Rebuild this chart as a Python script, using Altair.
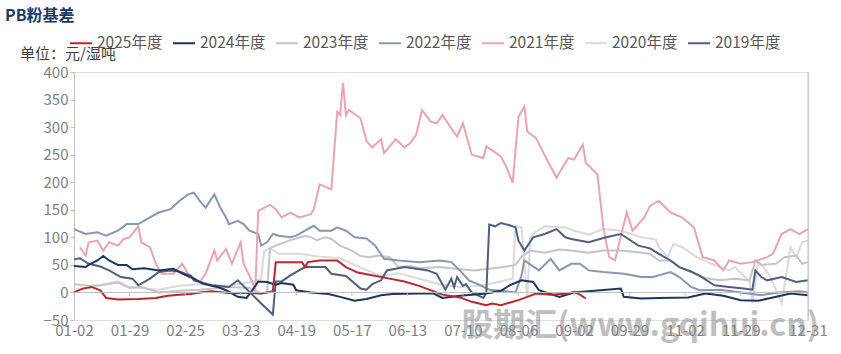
import altair as alt
import pandas as pd

FONT = "Noto Sans CJK SC"

TICK_IDX = [0, 19, 38, 57, 76, 95, 114, 133, 152, 171, 190, 209, 228, 251]
TICK_LBL = ["01-02", "01-29", "02-25", "03-23", "04-19", "05-17", "06-13",
            "07-10", "08-06", "09-02", "09-29", "11-02", "11-29", "12-31"]
Y_TICKS = [-50, 0, 50, 100, 150, 200, 250, 300, 350, 400]

SERIES = ["2025年度", "2024年度", "2023年度", "2022年度", "2021年度", "2020年度", "2019年度"]
COLORS = ["#b8282e", "#1f3560", "#c4c4c4", "#8797b2", "#eba3b2", "#dadada", "#4f5f80"]
WIDTHS = [2.0, 2.0, 1.6, 1.6, 1.6, 1.6, 1.6]

x2025 = [0,3,6,9,11,15,22,28,32,36,40,43,47,53,60,64,67,68,69,78,79,80,84,90,93,97,101,107,113,118,123,126,132,136,141,143,146,152,155,158,163,169,171,173,175]
v2025 = [0,7,10,4,-10,-13,-12,-10,-6,-4,-3,0,2,-1,-1,-2,1,2,55,55,46,55,58,58,46,36,32,26,20,12,2,-4,-9,-17,-23,-20,-23,-14,-8,-2,-4,-2,1,-4,-11]

x2024 = [0,4,5,8,10,12,15,18,20,24,29,34,37,41,44,49,52,56,59,61,63,66,69,71,75,76,81,87,91,96,100,105,109,118,123,126,132,141,146,149,153,157,159,166,171,180,187,188,194,200,210,216,222,228,234,239,245,251]
v2024 = [48,46,50,58,66,58,50,50,42,44,40,43,34,25,16,10,4,-8,-10,4,20,19,14,17,14,4,0,-3,-8,-15,-12,-5,-3,-2,-2,-10,-6,-2,3,13,22,19,4,-8,0,4,7,-8,-11,-10,-9,-2,-6,-14,-15,-9,-2,-5]

x2023 = [0,5,9,15,19,23,29,36,43,53,60,64,66,67,69,74,79,81,83,86,88,91,95,98,101,104,108,111,115,118,125,132,137,142,147,151,153,156,161,166,170,176,181,187,193,197,200,204,207,211,214,217,221,226,231,233,235,240,243,247,249,251]
v2023 = [15,12,13,18,8,10,0,3,5,10,8,-2,0,80,85,95,103,100,95,100,97,85,76,66,64,67,64,46,48,44,46,42,40,43,46,50,65,76,72,78,76,72,76,76,73,70,58,58,46,37,30,25,22,25,22,58,50,52,64,67,52,55]

x2022 = [0,4,8,11,15,18,22,26,29,33,36,39,41,43,45,48,50,52,53,56,58,60,63,64,66,68,70,74,76,79,82,84,88,90,93,96,100,103,106,111,118,125,129,132,135,139,142,146,151,153,154,159,163,166,170,173,176,181,188,194,198,204,207,211,214,221,228,235,241,248,251]
v2022 = [115,106,109,103,112,124,124,136,145,151,166,178,181,166,154,178,154,136,124,130,124,112,106,85,91,106,103,100,103,112,121,112,112,118,112,100,98,85,61,58,55,58,55,40,22,13,5,3,0,30,58,40,61,40,52,52,40,37,34,28,28,37,28,10,4,5,0,-5,0,2,0]

x2021 = [2,4,5,8,10,12,15,17,19,22,23,26,28,30,34,37,39,43,45,48,49,52,54,57,58,61,62,63,67,69,71,74,77,81,82,84,88,90,91,92,93,94,98,100,102,105,106,108,110,113,115,117,119,122,124,126,129,131,133,136,140,141,146,148,150,152,154,155,158,162,165,169,171,174,175,179,181,183,185,189,191,195,197,200,204,208,212,215,219,222,224,228,232,237,239,242,245,248,251]
v2021 = [82,67,91,94,76,91,85,97,100,120,91,82,52,34,34,52,34,19,34,76,58,79,52,91,52,19,4,148,159,151,136,145,136,142,151,196,187,328,322,380,322,331,316,275,263,278,253,265,278,263,271,286,331,310,307,322,298,283,307,250,244,265,247,226,199,319,337,292,280,238,208,244,241,268,235,214,118,64,58,145,112,136,157,166,145,136,118,64,58,40,58,52,55,64,70,106,115,106,115]

x2020 = [0,5,9,15,19,23,29,36,43,53,60,64,65,67,70,77,84,91,98,105,111,118,125,132,139,146,150,151,153,155,156,158,161,168,171,176,181,187,194,199,200,203,205,208,213,218,224,226,231,232,234,238,242,245,247,249,251]
v2020 = [5,8,13,20,10,8,5,12,15,12,18,25,75,80,70,70,65,62,45,30,35,25,15,10,12,20,25,121,118,-10,100,110,120,118,112,105,115,112,100,96,82,64,88,82,64,52,40,46,20,-20,58,30,-20,82,64,91,94]

x2019 = [0,2,5,9,12,16,20,22,26,29,33,36,40,41,47,53,56,64,68,69,71,74,77,79,86,88,93,98,100,102,105,107,113,117,121,124,127,129,130,131,133,134,136,138,140,141,142,144,146,149,151,152,154,157,161,165,168,170,176,182,187,193,197,200,204,207,211,214,219,224,229,232,233,235,237,242,247,251]
v2019 = [60,62,52,47,40,28,25,13,25,37,40,38,30,22,13,10,22,-20,-40,20,20,31,40,46,46,34,30,7,5,15,22,40,46,43,40,34,5,25,10,28,12,15,0,-5,-10,0,123,120,126,122,118,94,76,100,106,115,100,97,91,100,106,85,80,70,58,46,38,30,13,10,7,5,40,28,22,28,19,22]

# drawing order: bottom first
draw = [("2020年度", x2020, v2020), ("2023年度", x2023, v2023), ("2022年度", x2022, v2022),
        ("2021年度", x2021, v2021), ("2019年度", x2019, v2019), ("2024年度", x2024, v2024),
        ("2025年度", x2025, v2025)]

rows = []
for k, (name, xs, vs) in enumerate(draw):
    for x, v in zip(xs, vs):
        rows.append({"idx": x, "value": v, "series": name, "ord": k})
df = pd.DataFrame(rows)

W, H = 734, 248
x_scale = alt.Scale(domain=[0, 251], nice=False, zero=False)
y_scale = alt.Scale(domain=[-50, 400], nice=False)

label_expr = "[" + ",".join("'%s'" % s for s in TICK_LBL) + "][indexof([" + \
    ",".join(str(i) for i in TICK_IDX) + "], datum.value)]"

X_AXIS = alt.Axis(values=TICK_IDX, labelExpr=label_expr, title=None, domain=False,
                  ticks=False, grid=False, labelFlush=False, labelOverlap=False,
                  labelFontSize=15, labelColor="#7f7f7f", labelFont=FONT, labelPadding=3)
Y_AXIS = alt.Axis(values=Y_TICKS, title=None, grid=False,
                  domainColor="#bfbfbf", tickColor="#bfbfbf", tickSize=4,
                  labelOverlap=False, labelFlush=False, labelBound=False,
                  labelFontSize=15, labelColor="#7f7f7f", labelFont=FONT, labelPadding=2)

lines = alt.Chart(df).mark_line(interpolate="linear").encode(
    x=alt.X("idx:Q", scale=x_scale, axis=X_AXIS),
    y=alt.Y("value:Q", scale=y_scale, axis=Y_AXIS),
    color=alt.Color("series:N", scale=alt.Scale(domain=SERIES, range=COLORS),
                    legend=alt.Legend(title=None, orient="none", legendX=-5, legendY=-41,
                                      direction="horizontal", columns=7, symbolType="stroke",
                                      symbolSize=484, symbolStrokeWidth=2.5,
                                      labelFontSize=15.5, labelColor="#595959", labelFont=FONT,
                                      labelOffset=4, columnPadding=6)),
    strokeWidth=alt.StrokeWidth("series:N", scale=alt.Scale(domain=SERIES, range=WIDTHS), legend=None),
    detail="series:N",
    order="idx:Q",
)

zero = alt.Chart(pd.DataFrame({"y": [0]})).mark_rule(color="#bfbfbf", strokeWidth=1).encode(
    y=alt.Y("y:Q", scale=y_scale, axis=Y_AXIS))

ticks_df = pd.DataFrame({"idx": TICK_IDX, "y0": [0] * len(TICK_IDX), "y1": [-6] * len(TICK_IDX)})
zticks = alt.Chart(ticks_df).mark_rule(color="#bfbfbf").encode(
    x=alt.X("idx:Q", scale=x_scale, axis=X_AXIS), y=alt.Y("y0:Q", scale=y_scale, axis=Y_AXIS), y2="y1:Q")

right = alt.Chart(pd.DataFrame({"idx": [251]})).mark_rule(color="#bfbfbf").encode(
    x=alt.X("idx:Q", scale=x_scale, axis=X_AXIS), y=alt.value(0), y2=alt.value(H))

texts = pd.DataFrame({"t": ["x"]})
title = alt.Chart(texts).mark_text(text="PB粉基差", align="left", baseline="middle", font=FONT,
                                   fontSize=16, fontWeight="bold", color="#1f3864").encode(
    x=alt.value(-69), y=alt.value(-56))
unit = alt.Chart(texts).mark_text(text="单位：元/湿吨", align="left", baseline="middle", font=FONT,
                                  fontSize=15, color="#404040").encode(
    x=alt.value(-54), y=alt.value(-18))
wm = alt.Chart(texts).mark_text(text="股期汇(www.gqihui.cn)", align="center", baseline="middle",
                                font=FONT, fontSize=32, fontWeight="bold", color="#8c8c8c",
                                opacity=0.55).encode(x=alt.value(566), y=alt.value(254))

chart = alt.layer(lines, zero, zticks, right, title, unit, wm).properties(
    width=W, height=H,
    autosize=alt.AutoSizeParams(type="none"),
    padding={"left": 74, "top": 72, "right": 33, "bottom": 34},
).configure_view(stroke=None).configure_axisY(labelOverlap=False).configure(background="white")

chart.save("out.html", embed_options={"renderer": "svg", "actions": False})
